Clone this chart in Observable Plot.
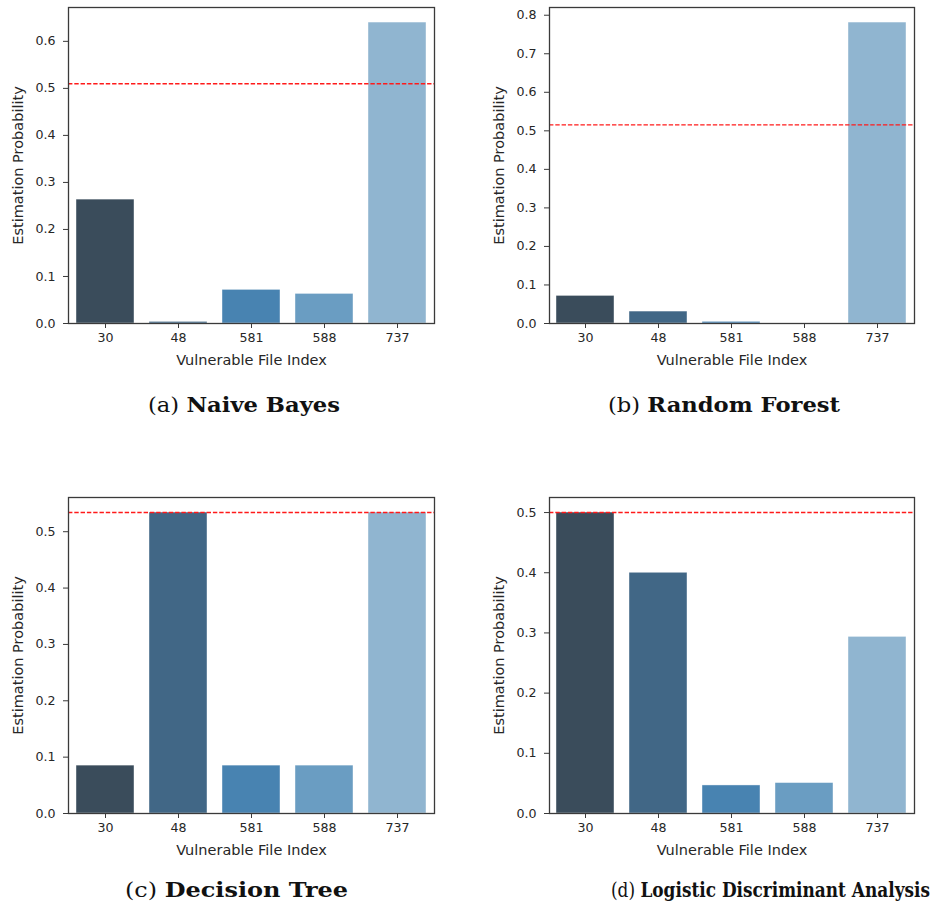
<!DOCTYPE html>
<html>
<head>
<meta charset="utf-8">
<script src="https://cdn.jsdelivr.net/npm/d3@7"></script>
<script src="https://cdn.jsdelivr.net/npm/@observablehq/plot@0.6"></script>
<style>
  html, body { margin: 0; padding: 0; background: #fff; }
  #fig { position: relative; width: 933px; height: 909px; overflow: hidden; }
  .panel { position: absolute; }
  .caption {
    position: absolute; display: inline-block; transform-origin: 0 50%;
    font-family: "DejaVu Serif", serif; font-size: 20px; line-height: 24px; color: #111;
    white-space: nowrap;
  }
  .caption b { font-weight: bold; }
</style>
</head>
<body>
<div id="fig"></div>
<script>
// Vulnerable files that were scored by each classifier
const files = ["30", "48", "581", "588", "737"];

// Estimated probability per file, one array per classifier
const naiveBayes   = [0.2635, 0.0035, 0.0716, 0.063, 0.640];
const randomForest = [0.0717, 0.031, 0.0044, 0.0, 0.781];
const decisionTree = [0.085, 0.534, 0.085, 0.085, 0.534];
const logisticDA   = [0.5, 0.4, 0.0466, 0.0506, 0.2935];

// Decision threshold drawn as a dashed line on each panel
const thresholds = [0.510, 0.5155, 0.534, 0.5];

// Sub-figure captions
const captionTags  = ["(a)", "(b)", "(c)", "(d)"];
const captionNames = ["Naive Bayes", "Random Forest", "Decision Tree", "Logistic Discriminant Analysis"];

// Axis titles
const xTitle = "Vulnerable File Index";
const yTitle = "Estimation Probability";

// Seaborn "Blues_d" style palette, one shade per file
const palette = ["#3a4c5b", "#416786", "#4883b1", "#6a9dc2", "#90b5d0"];

const series = [naiveBayes, randomForest, decisionTree, logisticDA];

// Placement of each panel's SVG and its plotting frame
const layout = [
  {left: 0,   top: 0,   width: 466, height: 380, ml: 68, mr: 32, mt: 7,  mb: 57},
  {left: 466, top: 0,   width: 467, height: 380, ml: 83, mr: 19, mt: 7,  mb: 57},
  {left: 0,   top: 470, width: 466, height: 390, ml: 68, mr: 32, mt: 27, mb: 47},
  {left: 466, top: 470, width: 467, height: 390, ml: 83, mr: 19, mt: 27, mb: 47}
];
// Caption boxes: left edge, set width, vertical centre
const captionBox = [
  {left: 148, width: 192, cy: 405}, {left: 608, width: 232, cy: 405},
  {left: 125, width: 223, cy: 890}, {left: 611, width: 319, cy: 890}
];

const fig = document.getElementById("fig");
const ink = "#262626";
const frameInk = "#3a3a3a";

series.forEach((values, i) => {
  const rows = files.map((f, j) => ({file: f, p: values[j]}));
  const yMax = d3.max(values) * 1.05;
  const L = layout[i];
  const plot = Plot.plot({
    width: L.width,
    height: L.height,
    marginLeft: L.ml, marginRight: L.mr, marginTop: L.mt, marginBottom: L.mb,
    style: {fontFamily: "DejaVu Sans, sans-serif", fontSize: "12.6px", color: ink, background: "white"},
    x: {domain: files, paddingInner: 0.2, paddingOuter: 0.1},
    y: {domain: [0, yMax]},
    color: {domain: files, range: palette},
    marks: [
      Plot.barY(rows, {x: "file", y: "p", fill: "file", stroke: "white", strokeWidth: 0.6, strokeOpacity: 0.7}),
      Plot.ruleY([thresholds[i]], {stroke: "#ff1a1a", strokeWidth: 1.4, strokeDasharray: "4.4,1.9"}),
      Plot.axisY({
        ticks: d3.range(0, yMax + 1e-9, 0.1),
        tickFormat: d3.format(".1f"),
        tickSize: 5, tickPadding: 8, stroke: frameInk, fontSize: 12.6,
        label: null
      }),
      Plot.axisX({
        tickSize: 5, tickPadding: 5, stroke: frameInk, fontSize: 12.6,
        label: null
      }),
      Plot.text([yTitle], {
        frameAnchor: "left", textAnchor: "middle", lineAnchor: "middle",
        rotate: -90, dx: -50, fontSize: 14.5, fill: ink
      }),
      Plot.text([xTitle], {
        frameAnchor: "bottom", textAnchor: "middle", lineAnchor: "middle",
        dy: 37, fontSize: 14.5, fill: ink
      }),
      Plot.frame({stroke: frameInk, strokeWidth: 1.3})
    ]
  });
  plot.classList.add("panel");
  plot.style.left = L.left + "px";
  plot.style.top = L.top + "px";
  fig.appendChild(plot);

  const box = captionBox[i];
  const cap = document.createElement("span");
  cap.className = "caption";
  cap.style.left = box.left + "px";
  cap.style.top = (box.cy - 12) + "px";
  cap.innerHTML = captionTags[i] + " <b>" + captionNames[i] + "</b>";
  fig.appendChild(cap);
  const w = cap.getBoundingClientRect().width;
  cap.style.transform = "scaleX(" + (box.width / w) + ")";
});
</script>
</body>
</html>
